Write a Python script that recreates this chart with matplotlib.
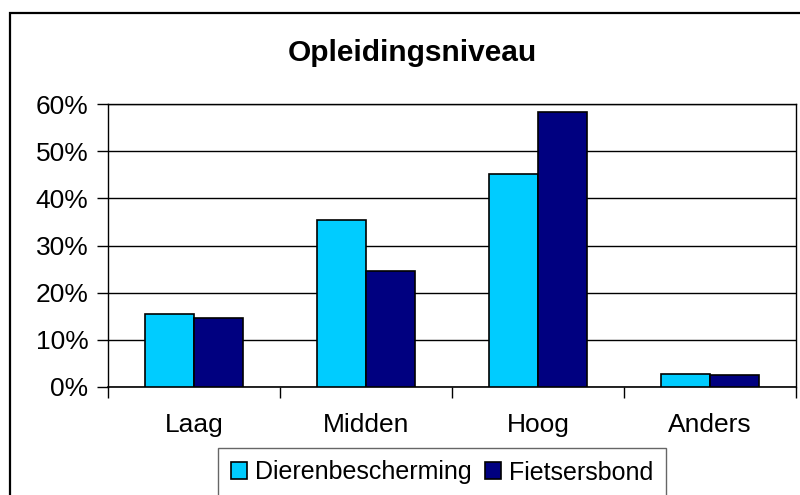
import numpy as np
import matplotlib
matplotlib.use("Agg")
import matplotlib.pyplot as plt
from matplotlib.patches import Rectangle
from matplotlib.ticker import FixedLocator, PercentFormatter

plt.rcParams['font.family'] = ['Liberation Sans', 'DejaVu Sans']

categories = ['Laag', 'Midden', 'Hoog', 'Anders']
dieren = [15.5, 35.4, 45.2, 2.8]
fiets = [14.7, 24.5, 58.3, 2.5]
series_names = ['Dierenbescherming', 'Fietsersbond']
colors = ['#00CCFF', '#000080']

fig = plt.figure(figsize=(8, 4.95), dpi=100)
ax = fig.add_axes([108 / 800, 1 - 387 / 495, 688 / 800, 283 / 495])

x = np.arange(len(categories))
w = 0.282
ax.bar(x - w / 2, dieren, w, color=colors[0], edgecolor='black', linewidth=1.2,
       label=series_names[0], zorder=3)
ax.bar(x + w / 2, fiets, w, color=colors[1], edgecolor='black', linewidth=1.2,
       label=series_names[1], zorder=3)

ax.set_xlim(-0.5, len(categories) - 0.5)
ax.set_ylim(0, 60)
ax.set_yticks(np.arange(0, 61, 10))
ax.yaxis.set_major_formatter(PercentFormatter(decimals=0))
ax.grid(axis='y', color='black', linewidth=1, zorder=0)

ax.set_xticks(x)
ax.set_xticklabels(categories)
ax.xaxis.set_minor_locator(FixedLocator(np.arange(-0.5, len(categories), 1)))
ax.tick_params(axis='x', which='major', length=0, pad=19, labelsize=19)
ax.tick_params(axis='x', which='minor', length=8, width=1, color='black')
ax.tick_params(axis='y', length=8, width=1, pad=6, labelsize=19)

for s in ['top', 'right', 'left']:
    ax.spines[s].set_linewidth(1)
ax.spines['bottom'].set_linewidth(1.2)

fig.text(0.516, 1 - 53 / 495, 'Opleidingsniveau', ha='center', va='center',
         fontsize=21.5, fontweight='bold')

leg = fig.legend(loc='upper center', bbox_to_anchor=(442 / 800, 1 - 448 / 495),
                 ncol=2, fontsize=18, frameon=True, fancybox=False,
                 edgecolor='#404040', handlelength=0.65, handleheight=0.65,
                 handletextpad=0.3, columnspacing=0.55, borderpad=0.5,
                 borderaxespad=0)
leg.get_frame().set_linewidth(1)

fig.patches.append(Rectangle((10 / 800, -0.1), 1.0, 1 - 13 / 495 + 0.1,
                             transform=fig.transFigure, fill=False,
                             edgecolor='black', linewidth=1.6))

fig.savefig('out.png', dpi=100)
